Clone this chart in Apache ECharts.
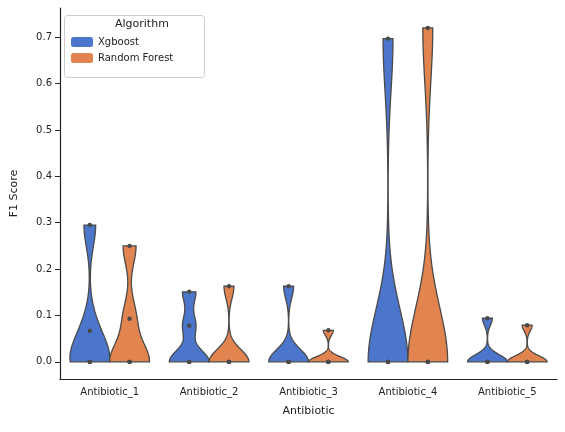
<!DOCTYPE html>
<html>
<head>
<meta charset="utf-8">
<script src="https://cdn.jsdelivr.net/npm/echarts@6/dist/echarts.min.js"></script>
<style>html,body{margin:0;padding:0;background:#fff}#chart{width:565px;height:432px}</style>
</head>
<body>
<div id="chart"></div>
<script>
// 数据
var categories = ['Antibiotic_1', 'Antibiotic_2', 'Antibiotic_3', 'Antibiotic_4', 'Antibiotic_5'];
var xgboostScores = [
    [0, 0, 0, 0.067, 0.295],
    [0, 0, 0, 0.078, 0.151],
    [0, 0, 0, 0, 0.163],
    [0, 0, 0, 0, 0.697],
    [0, 0, 0, 0, 0.094]
];
var rfScores = [
    [0, 0, 0, 0.093, 0.250],
    [0, 0, 0, 0, 0.163],
    [0, 0, 0, 0, 0.068],
    [0, 0, 0, 0, 0.720],
    [0, 0, 0, 0, 0.079]
];
var yTicks = [0, 0.1, 0.2, 0.3, 0.4, 0.5, 0.6, 0.7];

var font = 'DejaVu Sans';
var edge = '#4a4a4a';

// 核密度估计
function kde(values) {
    var n = values.length;
    var mean = values.reduce(function (a, b) { return a + b; }, 0) / n;
    var v = values.reduce(function (a, b) { return a + (b - mean) * (b - mean); }, 0) / (n - 1);
    var bw = 0.5 * Math.sqrt(v) * Math.pow(n, -0.2);
    var lo = Math.min.apply(null, values), hi = Math.max.apply(null, values);
    var pts = [];
    for (var i = 0; i <= 120; i++) {
        var y = lo + (hi - lo) * i / 120;
        var d = 0;
        values.forEach(function (x) { var z = (y - x) / bw; d += Math.exp(-0.5 * z * z); });
        pts.push([y, d]);
    }
    var max = Math.max.apply(null, pts.map(function (p) { return p[1]; }));
    return pts.map(function (p) { return [p[0], p[1] / max]; });
}

function violinSeries(name, scores, offset, color) {
    var dens = scores.map(kde);
    return {
        type: 'custom',
        name: name,
        itemStyle: {color: color},
        data: categories.map(function (c, i) { return [i]; }),
        renderItem: function (params, api) {
            var i = api.value(0);
            var band = api.size([1, 0])[0];
            var cx = api.coord([i, 0])[0] + offset * band;
            var half = band * 0.2;
            var left = [], right = [];
            dens[i].forEach(function (p) {
                var py = api.coord([i, p[0]])[1];
                left.push([cx - p[1] * half, py]);
                right.unshift([cx + p[1] * half, py]);
            });
            var children = [{
                type: 'polygon',
                shape: {points: left.concat(right)},
                style: {fill: color, stroke: edge, lineWidth: 1.3}
            }];
            scores[i].forEach(function (s) {
                children.push({
                    type: 'circle',
                    shape: {cx: cx, cy: api.coord([i, s])[1], r: 2.2},
                    style: {fill: edge}
                });
            });
            return {type: 'group', children: children};
        }
    };
}

var chart = echarts.init(document.getElementById('chart'));
var option = {
    animation: false,
    textStyle: {fontFamily: font},
    grid: {left: 60, right: 8, top: 8, bottom: 53},
    legend: {
        left: 66, top: 32, orient: 'vertical', itemWidth: 22, itemHeight: 10, itemGap: 6,
        textStyle: {fontFamily: font, fontSize: 10, color: '#222'},
        data: ['Xgboost', 'Random Forest']
    },
    graphic: [
        {type: 'rect', left: 64, top: 15, shape: {width: 140, height: 62, r: 3},
            style: {fill: 'rgba(255,255,255,0.8)', stroke: '#ccc', lineWidth: 1}, z: -1},
        {type: 'text', left: 115, top: 19, style: {text: 'Algorithm', font: '11px DejaVu Sans', fill: '#222'}}
    ],
    xAxis: {
        type: 'category', data: categories, name: 'Antibiotic', nameLocation: 'middle', nameGap: 27,
        nameTextStyle: {fontFamily: font, fontSize: 11, color: '#222'},
        axisLine: {onZero: false, lineStyle: {color: '#222', width: 1.2}},
        axisTick: {alignWithLabel: true, length: 5, lineStyle: {color: '#222'}},
        axisLabel: {fontFamily: font, fontSize: 10, color: '#222'}
    },
    yAxis: {
        type: 'value', min: -0.037, max: 0.763, name: 'F1 Score', nameLocation: 'middle', nameGap: 40,
        nameTextStyle: {fontFamily: font, fontSize: 11, color: '#222'},
        splitLine: {show: false},
        axisLine: {show: true, lineStyle: {color: '#222', width: 1.2}},
        axisTick: {show: true, length: 5, customValues: yTicks, lineStyle: {color: '#222'}},
        axisLabel: {fontFamily: font, fontSize: 10, color: '#222', customValues: yTicks,
            formatter: function (v) { return v.toFixed(1); }}
    },
    series: [
        violinSeries('Xgboost', xgboostScores, -0.2, '#4c76cc'),
        violinSeries('Random Forest', rfScores, 0.2, '#e2844f')
    ]
};
chart.setOption(option);
</script>
</body>
</html>
